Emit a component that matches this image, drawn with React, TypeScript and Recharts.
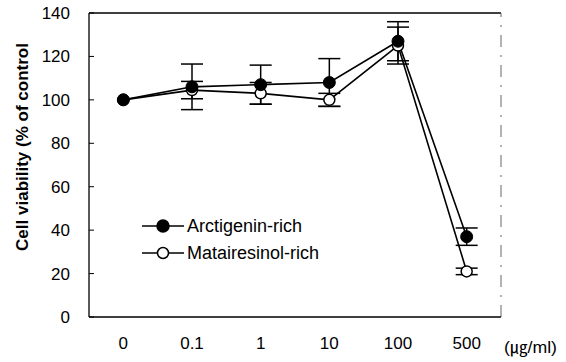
import React from 'react';
import { LineChart, Line, XAxis, YAxis, ErrorBar, ReferenceLine, Customized } from 'recharts';

const categories = ['0', '0.1', '1', '10', '100', '500'];
const arctigenin = [100, 106, 107, 108, 127, 37];
const arctigeninErr = [0, 10.5, 9, 11, 9, 4];
const matairesinol = [100, 104.5, 103, 100, 125, 21];
const matairesinolErr = [0, 4, 5, 3, 8.5, 1.5];
const yTicks = [0, 20, 40, 60, 80, 100, 120, 140];
const seriesNames = ['Arctigenin-rich', 'Matairesinol-rich'];

const data = categories.map((c, i) => ({
  x: i + 0.5,
  label: c,
  a: arctigenin[i],
  aErr: arctigeninErr[i],
  m: matairesinol[i],
  mErr: matairesinolErr[i],
}));

const FONT = '"Liberation Sans", Arial, sans-serif';

const Extras = () => (
  <g>
    <text
      transform="rotate(-90, 22, 147)"
      x={22}
      y={147}
      dy="0.35em"
      textAnchor="middle"
      fontSize={17}
      fontWeight="bold"
      fontFamily={FONT}
      fill="#000"
    >
      Cell viability (% of control
    </text>
    <text
      x={504}
      y={347}
      dy="0.35em"
      fontSize={16}
      textLength={53}
      lengthAdjust="spacingAndGlyphs"
      fontFamily={'"Liberation Sans", "Noto Sans CJK KR", sans-serif'}
      fill="#000"
    >
      (㎍/ml)
    </text>
    <g>
      {seriesNames.map((name, i) => {
        const y = 226 + i * 27;
        const filled = i === 0;
        return (
          <g key={name}>
            <line x1={142} x2={184} y1={y} y2={y} stroke="#000" strokeWidth={1.6} />
            <circle cx={163} cy={y} r={filled ? 6 : 5.5} fill={filled ? '#000' : '#fff'} stroke="#000" strokeWidth={1.5} />
            <text x={187} y={y} dy="0.35em" fontSize={18} fontFamily={FONT} fill="#000">{name}</text>
          </g>
        );
      })}
    </g>
  </g>
);

export default function App() {
  return (
    <div style={{ position: 'absolute', left: 0, top: 0, width: 566, height: 362, background: '#fff' }}>
      <LineChart width={566} height={362} data={data} margin={{ top: 13, right: 65, bottom: 0, left: 0 }}>
        <XAxis
          xAxisId="a"
          type="number"
          dataKey="x"
          domain={[0, 6]}
          ticks={[0, 1, 2, 3, 4, 5, 6]}
          tick={false}
          tickSize={-5}
          height={1}
          axisLine={{ stroke: '#000', strokeWidth: 1.3 }}
          tickLine={{ stroke: '#000', strokeWidth: 1 }}
        />
        <XAxis
          xAxisId="b"
          type="number"
          dataKey="x"
          domain={[0, 6]}
          ticks={data.map((d) => d.x)}
          tickFormatter={(v: number) => categories[Math.floor(v)]}
          axisLine={false}
          tickLine={false}
          tickSize={0}
          tickMargin={19}
          height={44}
          tick={{ fill: '#000', fontSize: 17, fontFamily: FONT }}
        />
        <YAxis
          type="number"
          domain={[0, 140]}
          ticks={yTicks}
          width={89}
          tickSize={-5}
          tickMargin={24}
          interval={0}
          axisLine={{ stroke: '#000', strokeWidth: 1.3 }}
          tickLine={{ stroke: '#000', strokeWidth: 1 }}
          tick={{ fill: '#000', fontSize: 17, fontFamily: FONT }}
        />
        <ReferenceLine y={140} xAxisId="a" stroke="#000" strokeWidth={1.3} />
        <ReferenceLine x={6} xAxisId="a" stroke="#666" strokeWidth={1} strokeDasharray="12 8 2 8" />
        <Line
          xAxisId="a"
          dataKey="m"
          name={seriesNames[1]}
          stroke="#000"
          strokeWidth={1.6}
          isAnimationActive={false}
          dot={{ r: 5.5, fill: '#fff', stroke: '#000', strokeWidth: 1.5 }}
        >
          <ErrorBar dataKey="mErr" width={11} stroke="#000" strokeWidth={1.5} />
        </Line>
        <Line
          xAxisId="a"
          dataKey="a"
          name={seriesNames[0]}
          stroke="#000"
          strokeWidth={1.6}
          isAnimationActive={false}
          dot={{ r: 6, fill: '#000', stroke: '#000', strokeWidth: 1 }}
        >
          <ErrorBar dataKey="aErr" width={11} stroke="#000" strokeWidth={1.5} />
        </Line>
        <Customized component={Extras} />
      </LineChart>
    </div>
  );
}
